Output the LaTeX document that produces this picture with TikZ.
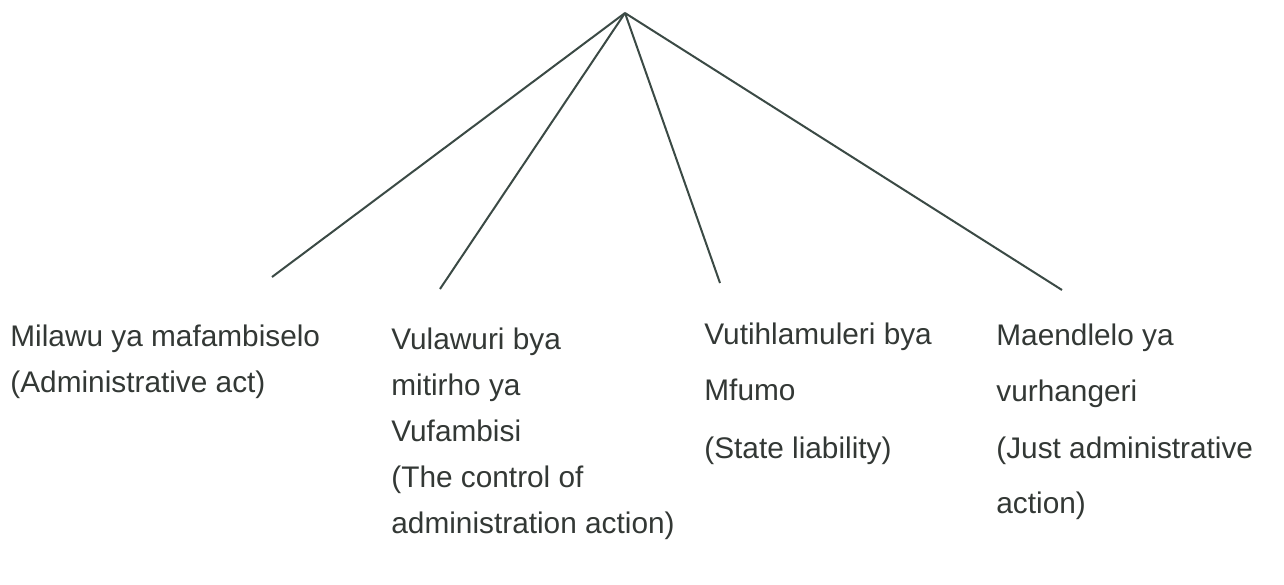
\documentclass[tikz,border=0pt]{standalone}
\usepackage{fontspec}
\setmainfont{Liberation Sans}

\definecolor{inkline}{HTML}{3B4A45}
\definecolor{inktext}{HTML}{333835}

\begin{document}
\begin{tikzpicture}[
    x = 0.5pt, y = -0.5pt,
    line join=round,
    branch/.style = {line width=1pt, draw=inkline},
    lbl/.style = {anchor=base west, inner sep=0pt, text=inktext,
                  font=\fontsize{14.9}{17}\selectfont}
]

\useasboundingbox (0, 0) rectangle (1284, 584);

\coordinate (top) at (625, 13);
\coordinate (e1) at (272, 277);
\coordinate (e2) at (440, 289);
\coordinate (e3) at (720, 283);
\coordinate (e4) at (1062, 290);

\draw[branch] (top) -- (e1);
\draw[branch] (top) -- (e2);
\draw[branch] (top) -- (e3);
\draw[branch] (top) -- (e4);

% Milawu
\node[lbl] (act1) at (10, 346) {Milawu ya mafambiselo};
\node[lbl] (act2) at (10, 392) {(Administrative act)};

% Vulawuri
\node[lbl] (ctl1) at (391, 349) {Vulawuri bya};
\node[lbl] (ctl2) at (391, 395) {mitirho ya};
\node[lbl] (ctl3) at (391, 441) {Vufambisi};
\node[lbl] (ctl4) at (391, 487) {(The control of};
\node[lbl] (ctl5) at (391, 533) {administration action)};

% Vutihlamuleri
\node[lbl] (lia1) at (704, 344) {Vutihlamuleri bya};
\node[lbl] (lia2) at (704, 400) {Mfumo};
\node[lbl] (lia3) at (704, 458) {(State liability)};

% Maendlelo
\node[lbl] (jus1) at (996, 345) {Maendlelo ya};
\node[lbl] (jus2) at (996, 401) {vurhangeri};
\node[lbl] (jus3) at (996, 458) {(Just administrative};
\node[lbl] (jus4) at (996, 513) {action)};

\end{tikzpicture}
\end{document}
